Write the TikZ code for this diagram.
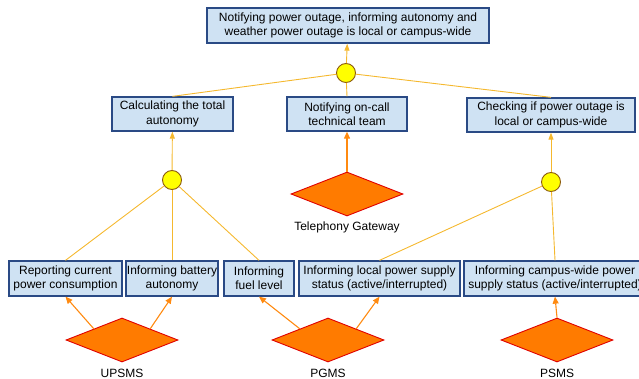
\documentclass[tikz,border=0pt]{standalone}
\usepackage{fontspec}
\setmainfont{Liberation Sans}
\usetikzlibrary{shapes.geometric,arrows.meta,calc}
\definecolor{boxfill}{HTML}{CFE2F3}
\definecolor{boxline}{HTML}{2A4A85}
\definecolor{yline}{HTML}{F5B82E}
\definecolor{cfill}{HTML}{FFFF00}
\definecolor{cline}{HTML}{8B5A10}
\definecolor{dfill}{HTML}{FF7B00}
\definecolor{dline}{HTML}{E00000}
\definecolor{oarrow}{HTML}{FF8A10}
\begin{document}
\begin{tikzpicture}[x=1pt,y=-1pt,
  goal/.style={draw=boxline,fill=boxfill,line width=1.3pt,minimum height=35pt,align=center,font=\fontsize{12}{14.3}\selectfont,inner sep=0pt},
  junc/.style={circle,draw=cline,fill=cfill,line width=0.9pt,minimum size=19pt,inner sep=0pt},
  agent/.style={diamond,draw=dline,fill=dfill,line width=0.9pt,minimum width=112pt,minimum height=44pt,inner sep=0pt},
  lbl/.style={font=\fontsize{12}{14.3}\selectfont,inner sep=0pt},
  yl/.style={draw=yline,line width=0.9pt},
  yarr/.style={draw=yline,line width=0.9pt,-{Triangle[length=7pt,width=5pt]}},
  oarr/.style={draw=oarrow,line width=1.1pt,-{Triangle[length=7pt,width=6pt]}}]
\useasboundingbox (0,0) rectangle (639,379);
\clip (0,0) rectangle (639,379);
% goals
\node[goal,minimum width=282pt] (top) at (348,25.5) {Notifying power outage, informing autonomy and\\weather power outage is local or campus-wide};
\node[goal,minimum width=121pt,minimum height=34pt] (calc) at (172.5,114) {Calculating the total\\autonomy};
\node[goal,minimum width=120pt,minimum height=34pt] (notif) at (347,114) {Notifying on-call\\technical team};
\node[goal,minimum width=168pt,minimum height=34pt] (check) at (551,115) {Checking if power outage is\\local or campus-wide};
\node[goal,minimum width=113pt] (b1) at (65.5,278.5) {Reporting current\\power consumption};
\node[goal,minimum width=92pt] (b2) at (172,278.5) {Informing battery\\autonomy};
\node[goal,minimum width=70pt] (b3) at (259,278.5) {Informing\\fuel level};
\node[goal,minimum width=161pt] (b4) at (379.5,278.5) {Informing local power supply\\status (active/interrupted)};
\node[goal,minimum width=182pt] (b5) at (555,278.5) {Informing campus-wide power\\supply status (active/interrupted)};
% junctions
\node[junc] (j0) at (346,73) {};
\node[junc] (j1) at (172,180) {};
\node[junc] (j2) at (551,182) {};
% agents
\node[agent] (tg) at (347,194) {};
\node[lbl] (tgl) at (347,227) {Telephony Gateway};
\node[agent] (ups) at (122,340) {};
\node[lbl] (upsl) at (122,373) {UPSMS};
\node[agent] (pg) at (328,340) {};
\node[lbl] (pgl) at (328,373) {PGMS};
\node[agent] (ps) at (557,340) {};
\node[lbl] (psl) at (557,373) {PSMS};
% yellow connectors
\draw[yarr] (j0) -- (top);
\draw[yl] (j0) -- (calc.north);
\draw[yl] (j0) -- (notif.north);
\draw[yl] (j0) -- (check.north);
\draw[yarr] (j1) -- (calc);
\draw[yl] (j1) -- (b1.north);
\draw[yl] (j1) -- (b2.north);
\draw[yl] (j1) -- (b3.north);
\draw[yarr] (j2) -- (check);
\draw[yl] (j2) -- (b4.north);
\draw[yl] (j2) -- (b5.north);
% orange arrows
\draw[oarr] (tg.north) -- (notif.south);
\draw[oarr] ($(ups.north)!.5!(ups.west)$) -- (b1.south);
\draw[oarr] ($(ups.north)!.5!(ups.east)$) -- (b2.south);
\draw[oarr] ($(pg.north)!.5!(pg.west)$) -- (b3.south);
\draw[oarr] ($(pg.north)!.5!(pg.east)$) -- (b4.south);
\draw[oarr] (ps.north) -- (b5.south);
\end{tikzpicture}
\end{document}
